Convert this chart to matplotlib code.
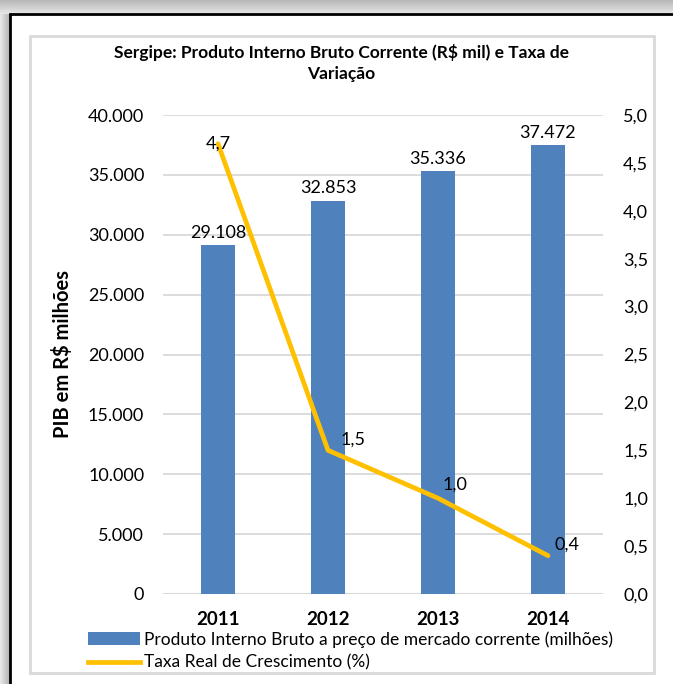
import matplotlib
matplotlib.use("Agg")
from matplotlib import pyplot as plt
from matplotlib.patches import Rectangle
from matplotlib.lines import Line2D
import numpy as np

plt.rcParams['font.family'] = ['Lato', 'DejaVu Sans']

anos = ['2011', '2012', '2013', '2014']
pib = [29108, 32853, 35336, 37472]
pib_rot = ['29.108', '32.853', '35.336', '37.472']
taxa = [4.7, 1.5, 1.0, 0.4]
taxa_rot = ['4,7', '1,5', '1,0', '0,4']
ticks_esq = [0, 5000, 10000, 15000, 20000, 25000, 30000, 35000, 40000]
ticks_esq_rot = ['0', '5.000', '10.000', '15.000', '20.000', '25.000', '30.000', '35.000', '40.000']
ticks_dir = [0, 0.5, 1.0, 1.5, 2.0, 2.5, 3.0, 3.5, 4.0, 4.5, 5.0]
ticks_dir_rot = ['0,0', '0,5', '1,0', '1,5', '2,0', '2,5', '3,0', '3,5', '4,0', '4,5', '5,0']
titulo = 'Sergipe: Produto Interno Bruto Corrente (R$ mil) e Taxa de\nVariação'
leg_pib = 'Produto Interno Bruto a preço de mercado corrente (milhões)'
leg_taxa = 'Taxa Real de Crescimento (%)'

azul = '#4F81BD'
amarelo = '#FFC000'
W, H = 673, 684

fig = plt.figure(figsize=(W / 100, H / 100), dpi=100)

# fundo: sombra, moldura preta e painel do grafico
bg = fig.add_axes([0, 0, 1, 1])
grad_top = np.linspace(0.72, 0.9, 14).reshape(-1, 1) * np.ones((1, 10))
bg.imshow(grad_top, cmap='gray', vmin=0, vmax=1, extent=(0, W, 14, 0), aspect='auto')
grad_left = np.linspace(0.9, 0.7, 10).reshape(1, -1) * np.ones((10, 1))
bg.imshow(grad_left, cmap='gray', vmin=0, vmax=1, extent=(0, 10, H, 14), aspect='auto')
bg.add_patch(Rectangle((10, 14), W, H, facecolor='white', edgecolor='black', lw=2))
bg.add_patch(Rectangle((30, 36), 624, 637, facecolor='white', edgecolor='#d9d9d9', lw=2))
bg.set_xlim(0, W)
bg.set_ylim(H, 0)
bg.axis('off')

fig.text(341 / W, 1 - 63 / H, titulo, ha='center', va='center', fontsize=12.5,
         fontweight='bold', linespacing=1.35)

ax = fig.add_axes([163 / W, 1 - 594 / H, 440 / W, 479 / H])
x = np.arange(len(anos))
ax.bar(x, pib, width=0.31, color=azul, zorder=2)
ax.set_xlim(-0.5, 3.5)
ax.set_ylim(0, 40000)
ax.set_yticks(ticks_esq)
ax.set_yticklabels(ticks_esq_rot)
ax.set_xticks(x)
ax.set_xticklabels(anos, fontweight='bold', fontsize=13.5)
ax.tick_params(axis='x', length=0, pad=12)
ax.tick_params(axis='y', length=0, pad=13.5, labelsize=13)
ax.grid(axis='y', color='#d9d9d9', lw=1.3, zorder=0)
for s in ax.spines.values():
    s.set_visible(False)
ax.axhline(0, color='#d9d9d9', lw=1.5, zorder=1)
ax.set_ylabel('PIB em R$ milhões', fontweight='bold', fontsize=14.5, labelpad=11)

for xi, v, r in zip(x, pib, pib_rot):
    ax.annotate(r, (xi, v), xytext=(0, 3), textcoords='offset points',
                ha='center', va='bottom', fontsize=13)

ax2 = ax.twinx()
ax2.plot(x, taxa, color=amarelo, lw=3.4, solid_capstyle='round', zorder=3)
ax2.set_ylim(0, 5)
ax2.set_yticks(ticks_dir)
ax2.set_yticklabels(ticks_dir_rot)
ax2.tick_params(axis='y', length=0, pad=14.5, labelsize=13)
for s in ax2.spines.values():
    s.set_visible(False)

desloc = [(0, 0), (9, 2), (3, 4), (5, 2)]
alinh = ['center', 'left', 'left', 'left']
for xi, v, r, d, a in zip(x, taxa, taxa_rot, desloc, alinh):
    ax2.annotate(r, (xi, v), xytext=d, textcoords='offset points',
                 ha=a, va='center' if a == 'center' else 'bottom', fontsize=13)

handles = [Rectangle((0, 0), 1, 1, facecolor=azul),
           Line2D([], [], color=amarelo, lw=3.4)]
fig.legend(handles, [leg_pib, leg_taxa], loc='upper left',
           bbox_to_anchor=(88 / W, 1 - 631 / H), frameon=False, fontsize=12.5,
           handlelength=3.0, handleheight=0.7, handletextpad=0.25,
           labelspacing=0.4, borderaxespad=0, borderpad=0)

fig.savefig('out.png', dpi=100)
